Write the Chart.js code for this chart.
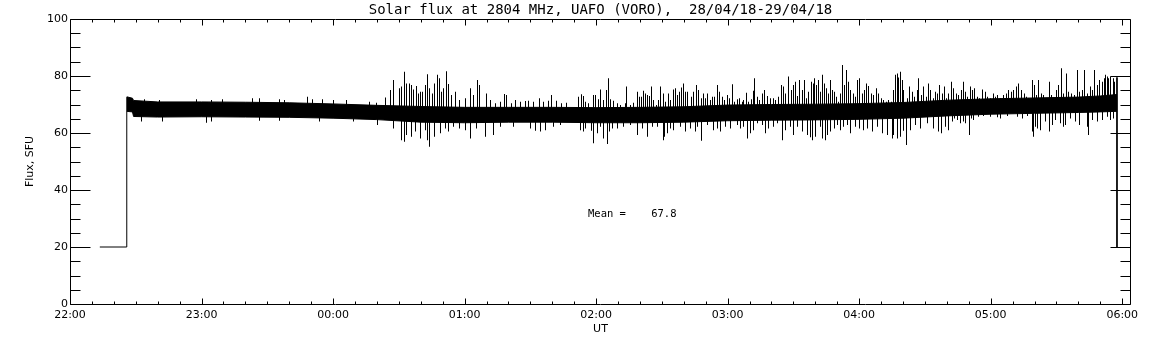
<!DOCTYPE html>
<html>
<head>
<meta charset="utf-8">
<title>Solar flux at 2804 MHz</title>
<script src="https://cdn.jsdelivr.net/npm/chart.js@4.4.1/dist/chart.umd.min.js"></script>
<style>
  html, body { margin: 0; padding: 0; background: #fff; }
  #wrap { width: 1152px; height: 345px; }
</style>
</head>
<body>
<div id="wrap"><canvas id="flux" width="1152" height="345"></canvas></div>
<script>
// x values are minutes after 22:00 UT (28/04/18), y values are flux in SFU

const hourLabels = ['22:00', '23:00', '00:00', '01:00', '02:00', '03:00', '04:00', '05:00', '06:00'];
const meanFlux = 67.8;

// receiver off (20 SFU) before the run, and the drop at the end
const offTimes = [13.6, 25.9, 25.9];
const offFlux = [20, 20, 72.6];
const tailTimes = [477.6, 477.6];
const tailFlux = [79.5, 20];

// dense noise band, read as lower / upper edge
const bandTimes = [25.9, 28.5, 29.0, 40, 60, 80, 100, 120, 140, 160, 180, 200, 220, 240, 260, 280,
                   300, 320, 340, 360, 380, 400, 420, 440, 460, 470, 477.6];
const bandLow  = [67.6, 67.4, 65.8, 65.6, 65.7, 65.6, 65.5, 65.2, 64.7, 63.8, 63.6, 63.8, 63.8, 63.6, 63.6, 63.8,
                  64.3, 64.5, 64.6, 64.8, 65.2, 66.0, 66.6, 66.9, 67.2, 67.4, 67.6];
const bandHigh = [72.7, 72.2, 71.4, 70.9, 70.9, 70.8, 70.6, 70.2, 69.7, 69.3, 69.0, 69.0, 69.0, 68.9, 69.0, 69.2,
                  69.8, 70.0, 70.1, 70.3, 70.7, 71.5, 72.0, 72.3, 72.6, 73.0, 73.5];

// individual spikes above the band: [minute, flux]
const upSpikes = [
  [34.0, 71.8], [40.8, 71.6], [57.6, 71.8], [64.4, 71.6], [69.7, 71.8], [83.4, 72.2], [86.5, 72.2], [95.6, 71.8],
  [97.9, 71.6], [108.5, 72.7], [110.8, 71.8], [115.4, 71.8], [120.0, 71.6], [126.0, 71.6], [136.7, 71.0], [139.7, 70.6],
  [144.1, 72.5], [146.0, 75.1], [147.8, 78.6], [150.2, 75.7], [151.3, 76.3], [152.4, 81.5], [153.3, 77.4], [154.8, 77.4],
  [155.9, 76.8], [156.6, 75.3], [157.9, 76.5], [158.9, 73.9], [159.7, 74.5], [160.9, 74.5], [162.0, 76.8], [163.0, 80.6],
  [164.2, 75.7], [165.5, 73.9], [166.5, 77.4], [167.6, 80.4], [168.5, 79.2], [169.6, 74.5], [170.3, 75.7], [171.9, 81.7],
  [172.8, 77.2], [174.1, 73.3], [175.7, 74.5], [177.9, 71.6], [180.2, 72.2], [182.5, 75.7], [184.0, 73.3], [185.9, 78.6],
  [186.8, 76.8], [190.1, 73.9], [191.7, 71.6], [193.9, 70.4], [196.2, 71.0], [198.1, 73.7], [199.0, 73.3], [201.6, 70.4],
  [203.1, 71.6], [205.4, 71.0], [207.7, 71.2], [209.2, 71.3], [211.5, 71.0], [214.2, 72.2], [216.0, 71.0], [218.3, 71.3],
  [219.8, 73.3], [222.1, 71.3], [224.4, 70.4], [226.7, 70.6],
  [232.1, 72.7], [233.2, 73.6], [234.1, 73.0], [235.1, 71.0], [236.7, 70.4], [238.9, 73.3], [239.7, 73.3], [241.2, 71.8],
  [242.0, 75.3], [243.5, 71.6], [244.6, 75.1], [245.8, 79.2], [246.6, 71.8], [248.1, 71.3], [249.6, 70.4], [251.1, 69.8],
  [253.4, 70.4], [253.9, 76.3], [255.7, 69.8], [257.2, 70.6], [258.7, 74.5], [259.8, 72.7], [260.7, 72.7], [261.5, 74.8],
  [262.5, 73.9], [263.6, 73.3], [264.5, 73.0], [265.3, 76.3], [266.3, 71.6], [267.5, 69.8], [268.6, 71.6], [269.4, 76.3],
  [270.6, 73.9], [271.6, 71.0], [272.9, 73.9], [273.9, 71.6], [275.5, 75.3], [276.4, 75.7], [277.0, 73.3], [278.0, 74.5],
  [279.0, 76.0], [279.7, 77.4], [280.8, 74.5], [281.8, 74.5], [283.4, 72.7], [284.6, 74.5], [285.8, 76.8], [286.9, 75.1],
  [287.9, 72.2], [288.8, 73.9], [289.9, 72.2], [291.0, 73.9], [292.2, 71.6], [293.2, 72.7], [294.2, 72.7], [295.2, 76.8],
  [296.4, 74.5], [297.5, 72.7], [298.6, 71.6], [299.8, 73.3], [301.0, 72.2], [302.4, 77.1], [303.1, 71.0], [304.4, 71.8],
  [305.6, 72.2], [306.6, 71.0], [307.4, 71.6], [308.6, 74.1], [309.7, 71.0], [310.9, 71.8], [312.0, 74.8], [312.4, 79.2],
  [313.5, 72.7], [314.7, 71.6],
  [315.8, 73.9], [316.8, 75.1], [318.0, 73.0], [319.6, 72.2], [320.8, 72.2], [321.8, 71.6], [323.4, 72.7], [324.4, 76.8],
  [325.3, 76.3], [326.4, 73.9], [327.9, 79.8], [329.1, 75.1], [330.2, 76.8], [331.0, 78.0], [332.0, 73.0], [333.0, 78.6],
  [334.0, 75.1], [335.1, 78.6], [336.0, 72.2], [337.1, 74.5], [338.1, 78.0], [339.0, 77.4], [339.8, 79.2], [340.6, 76.8],
  [341.6, 78.6], [342.4, 74.5], [343.1, 80.4], [344.2, 77.4], [345.1, 75.7], [346.2, 73.9], [346.9, 78.6], [347.7, 75.1],
  [348.8, 74.5], [349.7, 72.7], [350.7, 71.0], [351.5, 73.9], [352.3, 83.9], [353.3, 76.8], [354.2, 82.1], [355.3, 78.0],
  [356.1, 75.1], [357.3, 73.9], [358.3, 72.7], [359.4, 78.6], [360.3, 79.2], [361.4, 73.9], [362.5, 75.1], [363.4, 77.4],
  [364.4, 76.5], [365.5, 73.9], [366.7, 73.3], [367.9, 75.7], [369.0, 73.9], [370.1, 72.2], [371.3, 71.6], [372.5, 71.0],
  [373.6, 71.6], [374.6, 71.0], [375.8, 75.1], [376.6, 80.4], [377.4, 80.9], [378.1, 79.5], [378.9, 81.5], [379.6, 78.6],
  [380.4, 75.1], [381.9, 72.2], [383.1, 76.3], [384.2, 74.5], [385.3, 72.7], [386.5, 75.1], [387.2, 79.2], [388.5, 73.3],
  [389.5, 76.3], [390.6, 72.7], [391.5, 77.4], [392.6, 75.1], [393.8, 72.2], [394.9, 74.5], [395.6, 73.9], [396.8, 76.8],
  [397.9, 73.9], [399.0, 76.3], [399.9, 72.2], [400.9, 73.9],
  [402.2, 78.0], [403.2, 75.7], [404.4, 73.9], [405.5, 73.3], [406.6, 75.1], [407.5, 78.0], [408.5, 74.5], [409.6, 72.7],
  [410.8, 76.3], [411.6, 75.1], [412.7, 75.7], [413.9, 72.7], [415.1, 72.2], [416.1, 75.3], [417.7, 74.5], [418.7, 72.7],
  [419.9, 72.2], [421.2, 73.9], [422.2, 72.7], [423.3, 73.3], [424.5, 72.2], [426.0, 73.3], [427.3, 73.9], [428.3, 75.1],
  [429.4, 74.5], [430.6, 75.1], [431.7, 76.3], [432.9, 77.4], [433.9, 75.1], [435.2, 73.9], [436.4, 72.7], [437.4, 72.2],
  [439.0, 78.6], [440.0, 76.8], [440.9, 73.3], [442.0, 78.6], [443.1, 73.9], [444.3, 73.3], [445.5, 72.2], [446.6, 78.0],
  [447.6, 73.3], [448.9, 72.2], [450.1, 75.1], [451.1, 76.8], [452.3, 82.7], [453.4, 73.9], [454.6, 80.9], [455.7, 74.5],
  [456.8, 73.9], [458.0, 73.3], [459.5, 82.1], [460.7, 74.5], [461.8, 75.1], [462.8, 82.1], [464.1, 73.9], [465.3, 76.3],
  [466.3, 75.1], [467.4, 82.1], [468.6, 76.8], [469.8, 78.6], [470.9, 78.0], [471.7, 79.2], [472.4, 80.4], [473.2, 79.8],
  [473.9, 79.2], [474.7, 79.8], [475.8, 79.2], [476.7, 78.0]
];

// individual spikes below the band: [minute, flux]
const downSpikes = [
  [32.5, 64.0], [42.4, 64.0], [62.1, 63.6], [64.4, 64.0], [86.5, 64.3], [95.6, 64.3], [113.9, 64.0], [129.1, 64.0],
  [140.5, 62.8],
  [147.5, 61.6], [151.3, 57.5], [152.4, 56.9], [153.6, 59.3], [155.9, 58.7], [157.4, 60.5], [160.0, 58.1], [162.0, 61.0],
  [163.2, 57.5], [164.2, 55.2], [166.5, 58.7], [168.8, 59.9], [171.1, 61.6], [172.6, 60.5], [174.9, 62.2], [177.9, 61.6],
  [180.2, 61.0], [182.8, 58.1], [185.6, 61.6], [189.4, 58.7], [193.2, 59.3], [196.2, 62.2], [202.3, 62.2], [209.9, 61.6],
  [212.2, 60.8], [214.5, 60.5], [216.8, 61.0], [220.6, 62.2], [223.6, 62.8],
  [232.9, 61.0], [234.4, 60.5], [235.1, 61.6], [237.7, 60.8], [238.6, 56.4], [240.5, 59.9], [242.0, 62.2], [243.2, 58.1],
  [245.0, 56.1], [246.3, 60.5], [247.3, 61.6], [249.6, 61.6], [252.6, 62.2], [255.7, 62.8], [258.7, 59.3], [261.0, 61.6],
  [263.3, 58.7], [265.6, 62.2], [267.9, 62.2], [270.6, 57.5], [271.3, 58.7], [272.4, 59.9], [273.9, 61.6], [275.5, 61.0],
  [278.5, 62.2], [280.8, 60.5], [283.1, 61.6], [285.3, 60.5], [286.1, 62.2], [288.1, 57.3], [290.7, 62.8], [293.7, 61.0],
  [295.2, 61.6], [296.7, 60.5], [299.0, 62.2], [301.3, 61.6], [304.4, 62.8], [305.9, 61.6], [307.4, 62.2], [308.9, 58.1],
  [310.5, 59.9], [312.0, 61.0], [313.5, 63.4],
  [315.8, 62.8], [317.3, 59.9], [318.8, 61.6], [321.1, 62.2], [322.6, 63.4], [324.9, 57.5], [326.4, 61.0], [328.7, 62.2],
  [330.2, 59.3], [331.7, 62.2], [334.0, 60.5], [336.3, 59.3], [337.8, 58.5], [338.6, 57.5], [340.1, 58.7], [342.4, 62.2],
  [343.1, 58.1], [344.7, 57.5], [345.4, 59.3], [346.9, 60.5], [348.8, 61.6], [350.0, 62.8], [351.5, 61.0], [353.0, 62.2],
  [354.9, 62.8], [356.1, 59.9], [358.3, 62.2], [360.3, 61.6], [362.2, 61.0], [363.7, 61.6], [366.0, 60.5], [368.2, 62.2],
  [370.5, 59.9], [372.8, 59.3], [375.1, 58.1], [375.8, 59.3], [377.4, 58.1], [378.9, 58.7], [380.4, 60.8], [381.6, 55.8],
  [383.5, 61.0], [385.7, 62.8], [388.0, 61.6], [391.1, 63.4], [394.1, 61.6], [396.4, 60.5], [397.4, 59.9], [399.4, 62.2],
  [400.9, 61.0],
  [402.5, 64.0], [403.5, 65.1], [404.7, 64.6], [406.0, 63.4], [407.5, 64.0], [408.5, 63.4], [410.1, 59.3], [411.1, 65.1],
  [412.3, 64.6], [414.6, 65.7], [416.9, 66.0], [419.9, 65.7], [423.0, 65.5], [424.5, 65.1], [427.6, 66.0], [432.1, 65.7],
  [434.4, 65.1], [436.7, 66.0], [439.0, 60.5], [439.7, 58.7], [440.5, 62.2], [441.5, 61.6], [442.8, 61.0], [445.1, 64.0],
  [446.6, 60.5], [448.1, 62.8], [449.6, 64.6], [451.9, 63.4], [453.4, 62.2], [454.2, 62.8], [456.5, 65.1], [458.7, 64.0],
  [460.3, 62.8], [464.1, 62.2], [464.8, 59.3], [466.3, 64.6], [468.6, 64.0], [470.9, 64.6], [473.2, 65.7], [474.7, 64.6],
  [476.2, 65.1]
];

/* ── drawing ─────────────────────────────────────────────────────────── */
Chart.defaults.font.family = "'DejaVu Sans', sans-serif";
Chart.defaults.color = '#000';

const toPoints = (xs, ys) => xs.map((t, i) => ({ x: t, y: ys[i] }));

const spikeBars = upSpikes.map(([t, v]) => ({ x: t, y: [meanFlux, v] }))
    .concat(downSpikes.map(([t, v]) => ({ x: t, y: [v, meanFlux] })))
    .sort((a, b) => a.x - b.x);

const lineStyle = { borderColor: '#000', borderWidth: 1, pointRadius: 0, tension: 0, fill: false };

// IDL style box: inward ticks on all four sides
const idlFrame = {
    id: 'idlFrame',
    // put every 1px spike on a whole device column so it stays black
    afterDatasetsUpdate(chart) {
        chart.getSortedVisibleDatasetMetas()
            .filter(meta => meta.type === 'bar')
            .forEach(meta => meta.data.forEach(el => { el.x = Math.floor(el.x) + 0.5; }));
    },
    afterDraw(chart) {
        const { ctx, chartArea: a, scales: { x, y } } = chart;
        const L = a.left + 0.5, R = a.right - 0.5, T = a.top + 0.5, B = a.bottom + 0.5;
        ctx.save();
        ctx.strokeStyle = '#000';
        ctx.lineWidth = 1;
        ctx.beginPath();
        ctx.rect(L, T, R - L, B - T);
        for (let v = 0; v <= 100; v += 5) {
            const py = Math.round(y.getPixelForValue(v)) + 0.5;
            const len = v % 20 === 0 ? 20 : 10;
            ctx.moveTo(L, py); ctx.lineTo(L + len, py);
            ctx.moveTo(R, py); ctx.lineTo(R - len, py);
        }
        for (let t = 0; t <= 480; t += 10) {
            const px = Math.round(x.getPixelForValue(t)) + 0.5;
            const len = t % 60 === 0 ? 6 : 3;
            ctx.moveTo(px, B); ctx.lineTo(px, B - len);
            ctx.moveTo(px, T); ctx.lineTo(px, T + len);
        }
        ctx.stroke();
        ctx.restore();
    },
    afterDatasetsDraw(chart) {
        const { ctx, scales: { x, y } } = chart;
        ctx.save();
        ctx.fillStyle = '#000';
        ctx.font = "10.5px 'DejaVu Sans Mono', monospace";
        ctx.textAlign = 'left';
        ctx.textBaseline = 'middle';
        ctx.fillText('Mean =    ' + meanFlux.toFixed(1), x.getPixelForValue(236.3), y.getPixelForValue(31.4));
        ctx.restore();
    },
};

new Chart(document.getElementById('flux'), {
    type: 'line',
    data: {
        datasets: [
            { ...lineStyle, data: toPoints(bandTimes, bandHigh), backgroundColor: '#000', fill: '+1' },
            { ...lineStyle, data: toPoints(bandTimes, bandLow) },
            {
                type: 'bar',
                data: spikeBars,
                backgroundColor: '#000',
                borderWidth: 0,
                barThickness: 1,
                inflateAmount: 0,
                grouped: false,
            },
            { ...lineStyle, data: toPoints(offTimes, offFlux) },
            { ...lineStyle, data: toPoints(tailTimes, tailFlux) },
        ],
    },
    options: {
        responsive: false,
        animation: false,
        layout: { padding: { top: 0, right: 21, bottom: 0, left: 0 } },
        scales: {
            x: {
                type: 'linear',
                min: 0,
                max: 484,
                offset: false,
                grid: { display: false, drawTicks: false },
                border: { display: false },
                ticks: {
                    stepSize: 60,
                    includeBounds: false,
                    autoSkip: false,
                    maxRotation: 0,
                    padding: 5,
                    font: { size: 11 },
                    callback: v => hourLabels[Math.round(v / 60)],
                },
                title: { display: true, text: 'UT', font: { size: 11 }, padding: { top: 0, bottom: 9 } },
                afterFit(s) { s.height = 41; },
            },
            y: {
                type: 'linear',
                min: 0,
                max: 100,
                grid: { display: false, drawTicks: false },
                border: { display: false },
                ticks: { stepSize: 20, padding: 2, font: { size: 11 } },
                title: { display: true, text: 'Flux, SFU', font: { size: 11 }, padding: { top: 23.4, bottom: 0 } },
                afterFit(s) { s.width = 70; },
            },
        },
        plugins: {
            legend: { display: false },
            tooltip: { enabled: false },
            title: {
                display: true,
                fullSize: false,
                text: 'Solar flux at 2804 MHz, UAFO (VORO),  28/04/18-29/04/18',
                color: '#000',
                font: { family: "'DejaVu Sans Mono', monospace", size: 14, weight: 'normal', lineHeight: 1.2 },
                padding: { top: 1.5, bottom: 0.7 },
            },
        },
    },
    plugins: [idlFrame],
});
</script>
</body>
</html>
